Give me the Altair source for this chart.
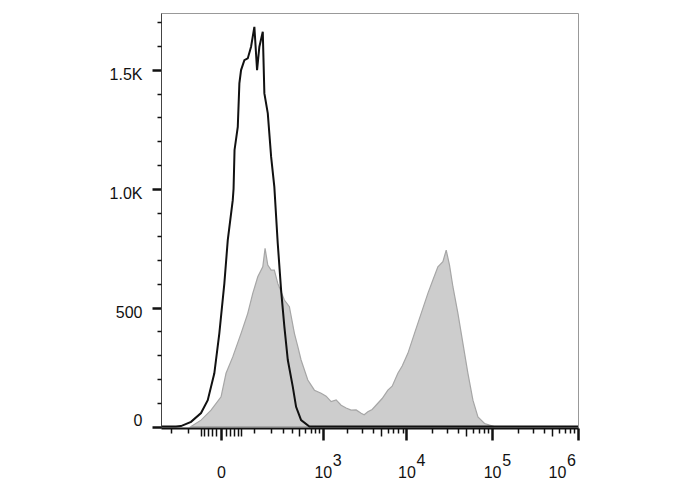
import altair as alt
import pandas as pd

# Control (unstained) histogram - black line
ctrl_x = [-280, -164, -135, -86.5, -49.7, -30, -13.8, -3.3, 6.5, 13.8, 25.8, 27.9, 30.5,
          39.6, 44.4, 49.7, 60.8, 73.2, 86.5, 101, 113.8, 125.5, 144.2, 153.6, 175, 198,
          222, 250, 280, 312, 349, 409, 453, 528, 677, 1000000]
ctrl_y = [0, 0, 2, 20, 57, 111, 224, 392, 602, 784, 952, 1000, 1163,
          1260, 1443, 1499, 1541, 1548, 1597, 1681, 1499, 1597, 1660, 1401, 1317, 1134,
          1008, 770, 574, 420, 280, 167, 83, 27, 0, 0]

# Stained sample histogram - gray filled
stain_x = [-86.5, -49.7, -21.5, 0, 10, 25.8, 49.7, 73.2, 93.8, 117.3, 144.2, 157.8, 175,
           198, 222, 250, 312, 367, 430, 478, 528, 646, 785, 953, 1100, 1268, 1460, 1679,
           1930, 2218, 2545, 2921, 3172, 3509, 3948, 4611, 5184, 6052, 6801, 7936, 8914,
           10397, 12425, 14882, 17822, 20390, 23325, 26683, 29170, 31870, 34930, 39950,
           45690, 52260, 59770, 68360, 81610, 93330, 105850]
stain_y = [0, 27, 69, 125, 224, 293, 392, 476, 560, 630, 672, 749, 679,
           658, 658, 602, 532, 504, 392, 336, 280, 196, 153, 140, 128, 105, 112, 90,
           78, 69, 70, 56, 50, 62, 72, 98, 118, 153, 170, 224, 255,
           308, 392, 476, 560, 616, 672, 693, 742, 679, 588, 476,
           350, 224, 111, 41, 13, 6, 0]

# Axis ticks
x_major = [0, 1000, 10000, 100000, 1000000]
x_mid = [-50, -40, -30, -20, -10, 10, 20, 30, 40, 50, 500, 5000, 50000, 500000]
x_minor = [-200, -100, 100, 200, 300, 400, 600, 700, 800, 900,
           2000, 3000, 4000, 6000, 7000, 8000, 9000,
           20000, 30000, 40000, 60000, 70000, 80000, 90000,
           200000, 300000, 400000, 600000, 700000, 800000, 900000]
x_exp_values = [1000, 10000, 100000]
x_last = [1000000]
y_major = [500, 1000, 1500]
y_zero = [0]
y_minor = [100, 200, 300, 400, 600, 700, 800, 900, 1100, 1200, 1300, 1400, 1600, 1700]

ctrl = pd.DataFrame({"x": ctrl_x, "y": ctrl_y})
stain = pd.DataFrame({"x": stain_x, "y": stain_y})

FONT = "Liberation Sans"
INK = "#111"
xscale = alt.Scale(type="symlog", constant=70, domain=[-280, 1000000], nice=False)
yscale = alt.Scale(domain=[-6, 1739], nice=False, zero=False)

major_list = "[0,1000,10000,100000,1000000]"
mid_list = "[-50,-40,-30,-20,-10,10,20,30,40,50,500,5000,50000,500000]"

common = dict(labelFont=FONT, labelFontSize=16, labelColor=INK, labelFlush=False,
              labelOverlap=False, labelBound=False, grid=False, title=None, zindex=1)

x_axis_main = alt.Axis(
    values=x_major + x_mid + x_minor,
    labelExpr="datum.value === 0 ? '0' : (indexof([1000,10000,100000], datum.value) >= 0 ? '10' : '')",
    tickSize={"condition": [
        {"test": "indexof(" + major_list + ", datum.value) >= 0", "value": 12},
        {"test": "indexof(" + mid_list + ", datum.value) >= 0", "value": 8}],
        "value": 5},
    tickWidth={"condition": {"test": "indexof(" + major_list + ", datum.value) >= 0", "value": 2.5},
               "value": 1.5},
    tickColor=INK, domainColor=INK, domainWidth=2,
    labelPadding=24, orient="bottom", **common,
)

x_axis_exp = alt.Axis(
    values=x_exp_values,
    labelExpr="format(round(log(datum.value) / LN10), 'd')",
    ticks=False, tickSize=0, domain=False,
    labelPadding=24, labelOffset=14, orient="bottom", **common,
)

x_axis_last = alt.Axis(
    values=x_last, labelExpr="'10'",
    ticks=False, tickSize=0, domain=False,
    labelPadding=36, labelOffset=-21, orient="bottom", **common,
)

x_axis_last_exp = alt.Axis(
    values=x_last, labelExpr="format(round(log(datum.value) / LN10), 'd')",
    ticks=False, tickSize=0, domain=False,
    labelPadding=24, labelOffset=-7, orient="bottom", **common,
)

y_axis_major = alt.Axis(
    values=y_major,
    labelExpr="datum.value < 1000 ? '500' : format(datum.value / 1000, '.1f') + 'K'",
    tickSize=9, tickWidth=2.5, tickColor=INK, domainColor="#444", domainWidth=1,
    labelBaseline="top", labelOffset=-3, labelPadding=10, orient="left", **common,
)

y_axis_zero = alt.Axis(
    values=y_zero, labelExpr="'0'",
    tickSize=9, tickWidth=2.5, tickColor=INK, domain=False,
    labelBaseline="alphabetic", labelOffset=-1, labelPadding=10, orient="left", **common,
)

y_axis_minor = alt.Axis(
    values=y_minor, labels=False,
    tickSize=4, tickWidth=1.5, tickColor=INK, domain=False,
    orient="left", **common,
)


def guide_layer(xaxis=None, yaxis=None):
    return alt.Chart(ctrl).mark_line(opacity=0).encode(
        x=alt.X("x:Q", scale=xscale, axis=xaxis),
        y=alt.Y("y:Q", scale=yscale, axis=yaxis),
    )


area = alt.Chart(stain).mark_area(fill="#cdcdcd", stroke="#a6a6a6", strokeWidth=1.2).encode(
    x=alt.X("x:Q", scale=xscale, axis=x_axis_main),
    y=alt.Y("y:Q", scale=yscale, axis=y_axis_major),
)

line = alt.Chart(ctrl).mark_line(color=INK, strokeWidth=2).encode(
    x=alt.X("x:Q", scale=xscale, axis=None),
    y=alt.Y("y:Q", scale=yscale, axis=None),
)

chart = alt.layer(
    area, line,
    guide_layer(x_axis_exp, y_axis_zero),
    guide_layer(x_axis_last, y_axis_minor),
    guide_layer(x_axis_last_exp, None),
).resolve_axis(x="independent", y="independent").properties(
    width=417, height=415,
    padding={"left": 153, "top": 5, "right": 20, "bottom": 60},
    autosize=alt.AutoSizeParams(type="none"),
).configure_view(stroke="#999", strokeWidth=1)

chart.save("out.html", embed_options={"renderer": "svg", "actions": False})
